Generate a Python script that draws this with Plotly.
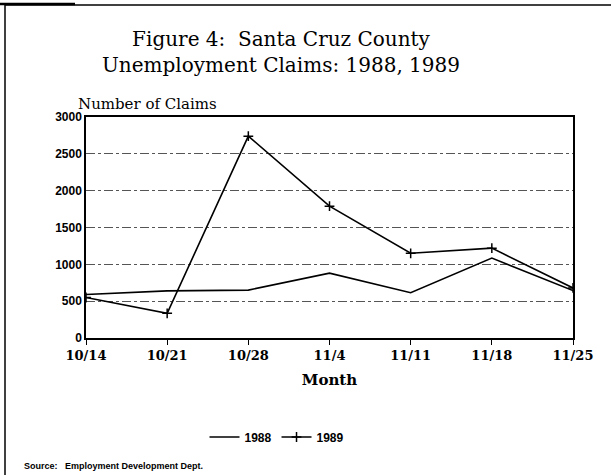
import plotly.graph_objects as go

weeks = ["10/14", "10/21", "10/28", "11/4", "11/11", "11/18", "11/25"]
claims_1988 = [590, 640, 650, 880, 615, 1085, 645]
claims_1989 = [550, 335, 2740, 1790, 1150, 1220, 680]
y_ticks = [0, 500, 1000, 1500, 2000, 2500, 3000]

fig = go.Figure()
fig.add_trace(go.Scatter(x=weeks, y=claims_1988, name="1988", mode="lines",
                         line=dict(color="black", width=1.6)))
fig.add_trace(go.Scatter(x=weeks, y=claims_1989, name="1989", mode="lines+markers",
                         line=dict(color="black", width=1.6),
                         marker=dict(symbol="cross-thin", size=7,
                                     line=dict(color="black", width=1.5))))

L, R, T, B = 86, 38, 117, 137
W, H = 611, 475
pw, ph = W - L - R, H - T - B

def px(x):
    return (x - L) / pw

def py(y):
    return (H - B - y) / ph

fig.update_layout(
    width=W, height=H,
    margin=dict(l=L, r=R, t=T, b=B, autoexpand=False),
    paper_bgcolor="white", plot_bgcolor="white",
    showlegend=True,
    legend=dict(orientation="h", x=px(277), xanchor="center", y=py(437), yanchor="middle",
                font=dict(family="Liberation Sans", size=12, color="black", weight="bold"),
                itemwidth=30, bgcolor="rgba(0,0,0,0)"),
    xaxis=dict(type="category", range=[0, 6], showgrid=False,
               showline=True, linecolor="black", linewidth=1.5, mirror=True,
               ticks="outside", ticklen=5, tickcolor="black",
               tickfont=dict(family="DejaVu Serif", size=13, color="black", weight="bold"),
               title=dict(text="Month", standoff=12,
                          font=dict(family="DejaVu Serif", size=15, color="black", weight="bold"))),
    yaxis=dict(range=[0, 3000], tickvals=y_ticks, showgrid=True,
               gridcolor="#555", griddash="dashdot", gridwidth=1,
               showline=True, linecolor="black", linewidth=1.5, mirror=True,
               ticks="", zeroline=False,
               tickfont=dict(family="Liberation Sans", size=12, color="black", weight="bold")),
    annotations=[
        dict(text="Figure 4:  Santa Cruz County<br>Unemployment Claims: 1988, 1989",
             xref="paper", yref="paper", x=px(281), y=py(52), xanchor="center", yanchor="middle",
             showarrow=False, font=dict(family="DejaVu Serif", size=20, color="black")),
        dict(text="Number of Claims", xref="paper", yref="paper", x=px(76), y=py(104),
             xanchor="left", yanchor="middle", showarrow=False,
             font=dict(family="DejaVu Serif", size=15, color="black")),
        dict(text="Source:   Employment Development Dept.", xref="paper", yref="paper",
             x=px(22), y=py(466), xanchor="left", yanchor="middle", showarrow=False,
             font=dict(family="Liberation Sans", size=9, color="black", weight="bold")),
    ],
    shapes=[
        dict(type="line", xref="paper", yref="paper", x0=px(5), x1=px(615), y0=py(5), y1=py(5),
             line=dict(color="black", width=1.5)),
        dict(type="line", xref="paper", yref="paper", x0=px(5), x1=px(5), y0=py(5), y1=py(480),
             line=dict(color="black", width=1.5)),
        dict(type="line", xref="paper", yref="paper", x0=px(0), x1=px(75), y0=py(4), y1=py(4),
             line=dict(color="black", width=2.5)),
    ],
)

fig.write_html("out.html", config={"displayModeBar": False},
               post_script="document.body.style.margin='0';document.body.style.overflow='hidden';")
